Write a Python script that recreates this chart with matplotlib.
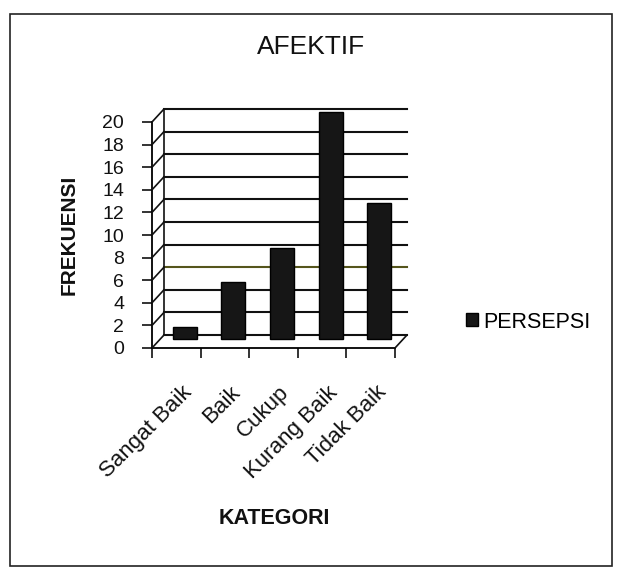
import numpy as np
import matplotlib
matplotlib.use('Agg')
import matplotlib.pyplot as plt
from matplotlib.patches import Rectangle, Patch
from matplotlib.transforms import ScaledTranslation

categories = ['Sangat Baik', 'Baik', 'Cukup', 'Kurang Baik', 'Tidak Baik']
persepsi = [1, 5, 8, 20, 12]
y_ticks = list(range(0, 21, 2))

plt.rcParams['font.family'] = ['Liberation Sans', 'DejaVu Sans']
ink = '#111111'

fig = plt.figure(figsize=(6.2, 5.69), dpi=100)
fig.patch.set_facecolor('white')
# outer frame of the chart area
fig.patches.append(Rectangle((10/620, 1-566/569), 602/620, 552/569, transform=fig.transFigure,
                             fill=False, edgecolor='#222222', linewidth=1.2))

ax = fig.add_axes([152/620, 1-348/569, 243/620, 226/569])
ax.set_xlim(-0.5, 4.5)
ax.set_ylim(0, 20)
x = np.arange(len(categories))

# depth offsets: back wall, and where the bars stand
back = ax.transData + ScaledTranslation(0.12, 0.13, fig.dpi_scale_trans)
mid = ax.transData + ScaledTranslation(0.085, 0.095, fig.dpi_scale_trans)

for v in y_ticks:
    c = '#55551c' if v == 6 else ink
    ax.plot([-0.5, 4.5], [v, v], color=c, lw=1.5, transform=back, clip_on=False, zorder=1)
    ax.annotate('', xy=(-0.5, v), xycoords=back, xytext=(-0.5, v), textcoords='data',
                arrowprops=dict(arrowstyle='-', color=ink, lw=1.2, shrinkA=0, shrinkB=0))
ax.plot([-0.5, -0.5], [0, 20], color=ink, lw=1.2, transform=back, clip_on=False)
ax.annotate('', xy=(4.5, 0), xycoords=back, xytext=(4.5, 0), textcoords='data',
            arrowprops=dict(arrowstyle='-', color=ink, lw=1.2, shrinkA=0, shrinkB=0))

bars = ax.bar(x, persepsi, width=0.49, color='#161616', edgecolor='#000000', zorder=3)
for b in bars:
    b.set_transform(mid)
    b.set_clip_on(False)

for s in ['top', 'right']:
    ax.spines[s].set_visible(False)
ax.spines['left'].set_linewidth(1.3)
ax.spines['bottom'].set_linewidth(1.3)

ax.set_yticks(y_ticks)
ax.set_yticklabels([str(v) for v in y_ticks], fontsize=14)
ax.set_xticks(np.arange(-0.5, 5, 1.0))
ax.set_xticklabels([])
ax.tick_params(axis='both', direction='out', length=7, width=1.2, colors=ink)
ax.tick_params(axis='y', pad=13)

for xi, name in zip(x, categories):
    t = ax.text(xi, 0, name, rotation=45, ha='right', va='top', rotation_mode='anchor',
                fontsize=16, color=ink)
    t.set_transform(ax.transData + ScaledTranslation(0.05, -0.34, fig.dpi_scale_trans))

fig.text(311/620, 1-47/569, 'AFEKTIF', ha='center', va='center', fontsize=19, color=ink)
fig.text(69/620, 1-235/569, 'FREKUENSI', rotation=90, ha='center', va='center',
         fontsize=15, fontweight='bold', color=ink)
fig.text(274/620, 1-519/569, 'KATEGORI', ha='center', va='center',
         fontsize=15.5, fontweight='bold', color=ink)

fig.legend(handles=[Patch(facecolor='#161616', edgecolor='#000000', label='PERSEPSI')],
           loc='center left', bbox_to_anchor=(447/620, 1-322/569), frameon=False,
           handlelength=0.55, handleheight=0.55, handletextpad=0.25, fontsize=15.5)

fig.savefig('out.png', dpi=100)
